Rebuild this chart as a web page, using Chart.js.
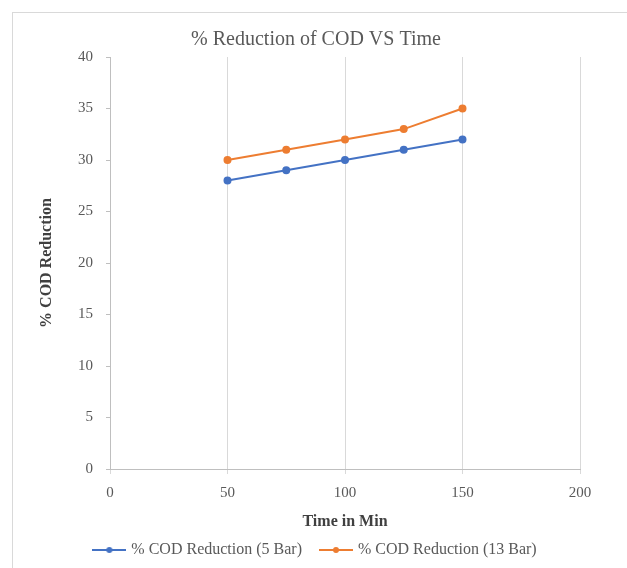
<!DOCTYPE html>
<html>
<head>
<meta charset="utf-8">
<script src="https://cdn.jsdelivr.net/npm/chart.js@4"></script>
<style>
  body { margin: 0; background: #fff; }
  #frame { position: absolute; left: 12px; top: 12px; width: 640px; height: 600px; border: 1px solid #d9d9d9; }
  #wrap { position: absolute; left: 0; top: 0; width: 627px; height: 568px; }
</style>
</head>
<body>
<div id="frame"></div>
<div id="wrap"><canvas id="chart" width="627" height="568"></canvas></div>
<script>
// dados
const tempos = [50, 75, 100, 125, 150];
const reducao5Bar = [28, 29, 30, 31, 32];
const reducao13Bar = [30, 31, 32, 33, 35];
const xTicks = [0, 50, 100, 150, 200];
const yTicks = [0, 5, 10, 15, 20, 25, 30, 35, 40];

const serif = "'Liberation Serif', 'DejaVu Serif', serif";
const cinza = '#595959';
const azul = '#4472C4';
const laranja = '#ED7D31';

function pontos(ys) {
  return tempos.map((t, i) => ({ x: t, y: ys[i] }));
}

// icone da legenda: linha com marcador no meio
function iconeLegenda(cor) {
  const c = document.createElement('canvas');
  c.width = 34;
  c.height = 10;
  const g = c.getContext('2d');
  g.strokeStyle = cor;
  g.fillStyle = cor;
  g.lineWidth = 2;
  g.beginPath();
  g.moveTo(0, 5);
  g.lineTo(34, 5);
  g.stroke();
  g.beginPath();
  g.arc(17, 5, 3, 0, Math.PI * 2);
  g.fill();
  return c;
}

const ctx = document.getElementById('chart').getContext('2d');
new Chart(ctx, {
  type: 'line',
  data: {
    datasets: [
      {
        label: '% COD Reduction (5 Bar)',
        data: pontos(reducao5Bar),
        borderColor: azul,
        backgroundColor: azul,
        borderWidth: 2,
        pointRadius: 3,
        pointHoverRadius: 3,
        tension: 0
      },
      {
        label: '% COD Reduction (13 Bar)',
        data: pontos(reducao13Bar),
        borderColor: laranja,
        backgroundColor: laranja,
        borderWidth: 2,
        pointRadius: 3,
        pointHoverRadius: 3,
        tension: 0
      }
    ]
  },
  options: {
    responsive: false,
    animation: false,
    layout: { padding: { left: 52, right: 47, top: 0, bottom: 0 } },
    plugins: {
      title: {
        display: true,
        text: '% Reduction of COD VS Time',
        color: cinza,
        font: { family: serif, size: 20, weight: 'normal' },
        padding: { top: 28, bottom: 5 }
      },
      legend: {
        position: 'bottom',
        labels: {
          color: cinza,
          font: { family: serif, size: 16 },
          usePointStyle: true,
          pointStyleWidth: 28,
          boxHeight: 10,
          padding: 20,
          generateLabels: chart => chart.data.datasets.map((ds, i) => ({
            text: ds.label,
            datasetIndex: i,
            fontColor: cinza,
            fillStyle: ds.borderColor,
            strokeStyle: ds.borderColor,
            lineWidth: 0,
            pointStyle: iconeLegenda(ds.borderColor),
            hidden: false
          }))
        }
      },
      tooltip: { enabled: false }
    },
    scales: {
      x: {
        type: 'linear',
        min: 0,
        max: 200,
        afterBuildTicks: s => { s.ticks = xTicks.map(v => ({ value: v })); },
        afterFit: s => { s.height = 53; },
        grid: { color: '#d9d9d9', tickLength: 5, drawOnChartArea: true },
        border: { display: true, color: '#bfbfbf' },
        ticks: { color: cinza, font: { family: serif, size: 15 }, padding: 10 },
        title: {
          display: true,
          text: 'Time in Min',
          color: '#404040',
          font: { family: serif, size: 16, weight: 'bold' },
          padding: { top: 0, bottom: -9 }
        }
      },
      y: {
        min: 0,
        max: 40,
        afterBuildTicks: s => { s.ticks = yTicks.map(v => ({ value: v })); },
        afterFit: s => { s.width = 58; },
        grid: { drawOnChartArea: false, tickLength: 4, color: '#bfbfbf' },
        border: { display: true, color: '#bfbfbf' },
        ticks: { color: cinza, font: { family: serif, size: 15 }, padding: 13 },
        title: {
          display: true,
          text: '% COD Reduction',
          color: '#404040',
          font: { family: serif, size: 16, weight: 'bold' },
          padding: { top: -15, bottom: 0 }
        }
      }
    }
  }
});
</script>
</body>
</html>
